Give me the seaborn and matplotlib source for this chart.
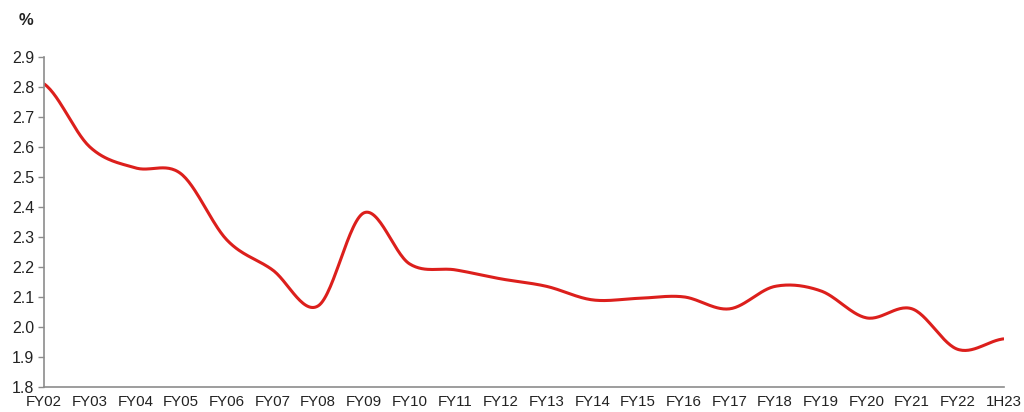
import numpy as np
import pandas as pd
import matplotlib
matplotlib.use("Agg")
import matplotlib.pyplot as plt
import seaborn as sns

# Data
periods = ["FY02", "FY03", "FY04", "FY05", "FY06", "FY07", "FY08", "FY09", "FY10", "FY11", "FY12",
           "FY13", "FY14", "FY15", "FY16", "FY17", "FY18", "FY19", "FY20", "FY21", "FY22", "1H23"]
values = [2.81, 2.60, 2.53, 2.51, 2.29, 2.19, 2.07, 2.38, 2.21, 2.19, 2.16,
          2.135, 2.09, 2.095, 2.10, 2.06, 2.135, 2.12, 2.03, 2.06, 1.925, 1.96]
y_ticks = [1.8, 1.9, 2.0, 2.1, 2.2, 2.3, 2.4, 2.5, 2.6, 2.7, 2.8, 2.9]


# Smoothed line like a spreadsheet "smoothed line" (Catmull-Rom through the points)
def smooth(y, steps=30):
    p = np.concatenate([[y[0]], y, [y[-1]]])
    xs, ys = [], []
    for i in range(1, len(p) - 2):
        t = np.linspace(0, 1, steps, endpoint=False)
        p0, p1, p2, p3 = p[i - 1], p[i], p[i + 1], p[i + 2]
        seg = 0.5 * ((2 * p1) + (-p0 + p2) * t + (2 * p0 - 5 * p1 + 4 * p2 - p3) * t ** 2
                     + (-p0 + 3 * p1 - 3 * p2 + p3) * t ** 3)
        xs.append(i - 1 + t)
        ys.append(seg)
    xs.append([len(y) - 1])
    ys.append([y[-1]])
    return np.concatenate(xs), np.concatenate(ys)


sx, sy = smooth(np.array(values))
df = pd.DataFrame({"x": sx, "y": sy})

sns.set_style("white")
plt.rcParams["font.family"] = ["Liberation Sans", "DejaVu Sans"]

fig = plt.figure(figsize=(10.24, 4.12), dpi=100)
ax = fig.add_axes([0.043, 0.061, 0.937, 0.801])

sns.lineplot(data=df, x="x", y="y", ax=ax, color="#dc1f1c", linewidth=2.2, sort=False)

ax.set_xlim(0, len(periods) - 1)
ax.set_ylim(1.8, 2.9)
ax.set_xticks(range(len(periods)))
ax.set_xticklabels(periods)
ax.set_yticks(y_ticks)
ax.set_yticklabels([f"{v:.1f}" for v in y_ticks])
ax.set_xlabel("")
ax.set_ylabel("")

for side in ["top", "right"]:
    ax.spines[side].set_visible(False)
for side in ["left", "bottom"]:
    ax.spines[side].set_color("#8c8c8c")
    ax.spines[side].set_linewidth(1.2)

ax.tick_params(axis="y", left=True, length=4, width=1, color="#8c8c8c", labelsize=11.5,
               labelcolor="#222222", pad=3)
ax.tick_params(axis="x", bottom=False, labelsize=10.8, labelcolor="#222222", pad=2)

fig.text(0.018, 0.95, "%", fontsize=12, fontweight="bold", color="#222222", va="center")

fig.savefig("out.png", dpi=100)
